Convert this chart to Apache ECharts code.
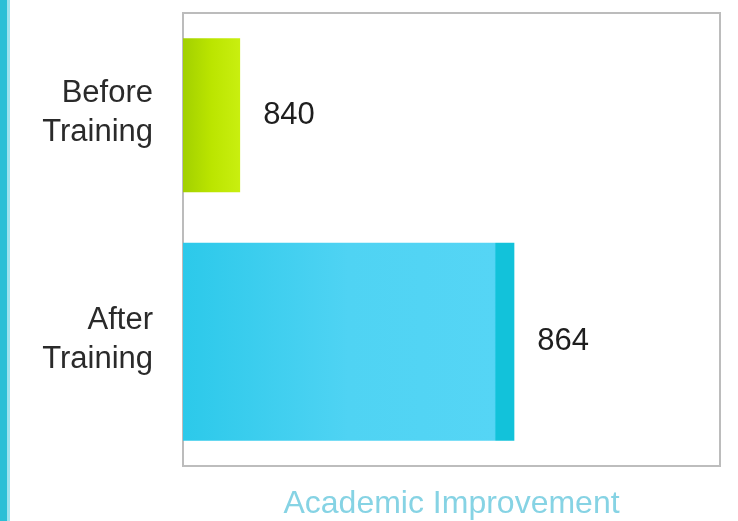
<!DOCTYPE html>
<html>
<head>
<meta charset="utf-8">
<script src="https://cdn.jsdelivr.net/npm/echarts@6/dist/echarts.min.js"></script>
<style>
html,body{margin:0;padding:0;background:#ffffff;}
#chart{width:738px;height:521px;}
</style>
</head>
<body>
<div id="chart"></div>
<script>
const categories = ['Before\nTraining', 'After\nTraining'];
const beforeValues = [840, '-'];
const afterValues = ['-', 864];
const axisTitle = 'Academic Improvement';

const chart = echarts.init(document.getElementById('chart'));
const w1 = 154, w2 = 198;
const gap = -(w1 + w2) / (2 * w1) * 100;

const labelStyle = {
  show: true,
  position: 'right',
  distance: 23,
  color: '#1e1e1e',
  fontSize: 31,
  fontFamily: 'Liberation Sans, Arial, sans-serif'
};

chart.setOption({
  backgroundColor: '#ffffff',
  animation: false,
  graphic: [
    { type: 'rect', left: 0, top: 0, shape: { width: 7, height: 521 }, style: { fill: '#2bbfd6' } },
    { type: 'rect', left: 7, top: 0, shape: { width: 3, height: 521 }, style: { fill: '#9fe3ee' } }
  ],
  grid: {
    left: 183, right: 18, top: 13, bottom: 55,
    outerBoundsMode: 'none',
    containLabel: false,
    show: true, borderColor: '#bcbcbc', borderWidth: 2, backgroundColor: '#ffffff'
  },
  xAxis: {
    type: 'value',
    min: 835,
    max: 882,
    splitLine: { show: false },
    axisLine: { show: true, lineStyle: { color: '#bdbdbd', width: 2 } },
    axisTick: { show: false },
    axisLabel: { show: false },
    name: axisTitle,
    nameLocation: 'middle',
    nameGap: 22,
    nameTextStyle: {
      color: '#86d3e4',
      fontSize: 32,
      fontFamily: 'Liberation Sans, Arial, sans-serif'
    }
  },
  yAxis: {
    type: 'category',
    data: categories,
    inverse: true,
    axisLine: { show: false },
    axisTick: { show: false },
    axisLabel: {
      color: '#2a2a2a',
      fontSize: 31,
      lineHeight: 39,
      margin: 30,
      align: 'right',
      formatter: function (v) { return v + '\n{s| }'; },
      rich: { s: { fontSize: 10, lineHeight: 26 } },
      fontFamily: 'Liberation Sans, Arial, sans-serif'
    }
  },
  series: [
    {
      type: 'bar',
      data: beforeValues,
      barWidth: w1,
      barGap: gap + '%',
      itemStyle: {
        color: new echarts.graphic.LinearGradient(0, 0, 1, 0, [
          { offset: 0, color: '#a2d000' },
          { offset: 0.5, color: '#bbe500' },
          { offset: 1, color: '#c9ef10' }
        ])
      },
      label: labelStyle
    },
    {
      type: 'bar',
      data: afterValues,
      barWidth: w2,
      itemStyle: {
        color: new echarts.graphic.LinearGradient(0, 0, 1, 0, [
          { offset: 0, color: '#2cc9ea' },
          { offset: 0.5, color: '#4fd3f3' },
          { offset: 0.94, color: '#55d5f5' },
          { offset: 0.945, color: '#12c2da' },
          { offset: 1, color: '#12c2da' }
        ])
      },
      label: labelStyle
    }
  ]
});
</script>
</body>
</html>
